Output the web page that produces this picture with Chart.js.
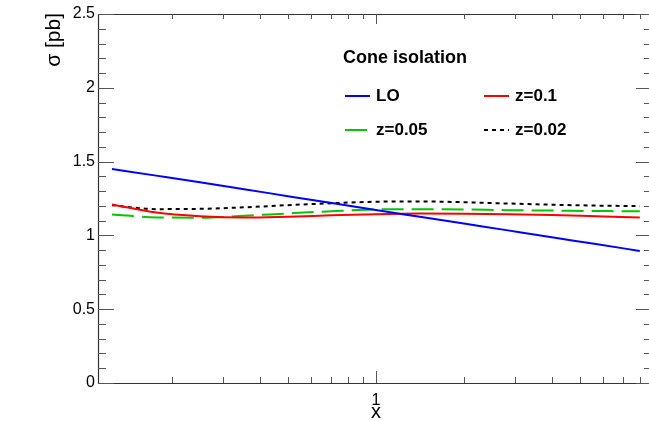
<!DOCTYPE html>
<html>
<head>
<meta charset="utf-8">
<script src="https://cdn.jsdelivr.net/npm/chart.js@4/dist/chart.umd.min.js"></script>
<style>
  html, body { margin: 0; padding: 0; background: #fff; }
  #wrap { width: 649px; height: 421px; }
</style>
</head>
<body>
<div id="wrap"><canvas id="c" width="649" height="421"></canvas></div>
<script>
// x values (log scale) and the four cross-section curves
const xValues = [0.125, 0.177, 0.25, 0.354, 0.5, 0.707, 1, 1.414, 2, 2.83, 4, 5.66, 8];
const loValues = [1.45, 1.405, 1.36, 1.313, 1.266, 1.219, 1.172, 1.126, 1.08, 1.034, 0.988, 0.941, 0.895];
const z01Values = [1.21, 1.155, 1.13, 1.121, 1.127, 1.136, 1.144, 1.148, 1.147, 1.144, 1.138, 1.13, 1.122];
const z005Values = [1.142, 1.122, 1.12, 1.133, 1.149, 1.164, 1.176, 1.178, 1.176, 1.171, 1.168, 1.165, 1.164];
const z002Values = [1.205, 1.178, 1.18, 1.19, 1.205, 1.218, 1.228, 1.23, 1.225, 1.216, 1.208, 1.202, 1.198];

const seriesNames = ["LO", "z=0.1", "z=0.05", "z=0.02"];
const xTickLabels = [1];
const xMinorTicks = [0.2, 0.3, 0.4, 0.5, 0.6, 0.7, 0.8, 0.9, 2, 3, 4, 5, 6, 7, 8];
const yTickLabels = [0, 0.5, 1, 1.5, 2, 2.5];

const FONT = "'Liberation Sans', Arial, Helvetica, sans-serif";

const pts = (ys) => xValues.map((x, i) => ({ x: x, y: ys[i] }));

function ds(label, ys, color, dash) {
    return {
        label: label,
        data: pts(ys),
        borderColor: color,
        backgroundColor: color,
        borderWidth: 2,
        borderDash: dash,
        pointRadius: 0,
        cubicInterpolationMode: "monotone",
        fill: false
    };
}

const frame = {
    id: "frame",
    afterDraw(chart) {
        const ctx = chart.ctx;
        const a = chart.chartArea;
        const xs = chart.scales.x, ys = chart.scales.y;
        ctx.save();
        ctx.strokeStyle = "#333";
        ctx.lineWidth = 1.2;
        ctx.beginPath();
        ctx.moveTo(a.left + 0.5, a.top + 0.5);
        ctx.lineTo(a.left + 0.5, a.bottom + 0.5);
        ctx.lineTo(a.right, a.bottom + 0.5);
        ctx.moveTo(a.left + 0.5, a.top + 0.5);
        ctx.lineTo(a.right, a.top + 0.5);
        ctx.stroke();

        ctx.strokeStyle = "#555";
        ctx.lineWidth = 1;
        ctx.beginPath();
        // y ticks, left and right, pointing inwards
        for (let i = 0; i <= 25; i++) {
            const v = i / 10;
            const y = Math.round(ys.getPixelForValue(v)) + 0.5;
            const major = i % 5 === 0;
            ctx.moveTo(a.left, y); ctx.lineTo(a.left + (major ? 16 : 8), y);
            ctx.moveTo(a.right + 2, y); ctx.lineTo(a.right + 2 - (major ? 15 : 7), y);
        }
        // x ticks, bottom and top
        xMinorTicks.concat(xTickLabels).forEach((v) => {
            const x = Math.round(xs.getPixelForValue(v)) + 0.5;
            const major = xTickLabels.includes(v);
            ctx.moveTo(x, a.bottom); ctx.lineTo(x, a.bottom - (major ? 12 : 6));
            ctx.moveTo(x, a.top); ctx.lineTo(x, a.top + (major ? 10 : 5));
        });
        ctx.stroke();

        // axis titles
        ctx.fillStyle = "#000";
        ctx.font = "20px " + FONT;
        ctx.textAlign = "center";
        ctx.textBaseline = "alphabetic";
        ctx.fillText("x", xs.getPixelForValue(1), 418);
        ctx.save();
        ctx.translate(60, a.top - 1);
        ctx.rotate(-Math.PI / 2);
        ctx.textAlign = "right";
        ctx.font = "21px " + FONT;
        ctx.fillText("\u03c3 [pb]", 0, 0);
        ctx.restore();

        // legend
        ctx.textAlign = "left";
        ctx.textBaseline = "middle";
        ctx.font = "bold 18px " + FONT;
        ctx.fillText("Cone isolation", 343, 58);
        const spots = [[345, 96], [484, 96], [345, 130], [484, 130]];
        ctx.font = "bold 17px " + FONT;
        chart.data.datasets.forEach((d, i) => {
            const [lx, ly] = spots[i];
            ctx.strokeStyle = d.borderColor;
            ctx.lineWidth = 2;
            ctx.setLineDash(d.borderDash || []);
            ctx.beginPath();
            ctx.moveTo(lx, ly); ctx.lineTo(lx + 25, ly);
            ctx.stroke();
            ctx.setLineDash([]);
            ctx.fillStyle = "#000";
            ctx.fillText(d.label, lx + 31, ly);
        });
        ctx.restore();
    }
};

new Chart(document.getElementById("c").getContext("2d"), {
    type: "line",
    data: {
        datasets: [
            ds(seriesNames[0], loValues, "#0000ff", []),
            ds(seriesNames[1], z01Values, "#ff0000", []),
            ds(seriesNames[2], z005Values, "#00c800", [22, 8]),
            ds(seriesNames[3], z002Values, "#000000", [4, 4])
        ]
    },
    options: {
        responsive: false,
        animation: false,
        layout: { padding: { left: 0, right: 0, top: 14, bottom: 0 } },
        plugins: { legend: { display: false }, tooltip: { enabled: false } },
        scales: {
            x: {
                type: "logarithmic",
                min: 0.112,
                max: 8.6,
                grid: { display: false, drawTicks: false },
                border: { display: false },
                afterBuildTicks: (s) => { s.ticks = xTickLabels.map((v) => ({ value: v })); },
                afterFit: (s) => { s.height = 38; },
                ticks: {
                    autoSkip: false,
                    maxRotation: 0,
                    padding: 8,
                    color: "#000",
                    font: { family: FONT, size: 16 },
                    callback: (v) => String(v)
                }
            },
            y: {
                min: 0,
                max: 2.5,
                grid: { display: false, drawTicks: false },
                border: { display: false },
                afterBuildTicks: (s) => { s.ticks = yTickLabels.map((v) => ({ value: v })); },
                afterFit: (s) => { s.width = 98; },
                ticks: {
                    padding: 3,
                    color: "#000",
                    font: { family: FONT, size: 16 },
                    callback: (v) => String(v)
                }
            }
        }
    },
    plugins: [frame]
});
</script>
</body>
</html>
